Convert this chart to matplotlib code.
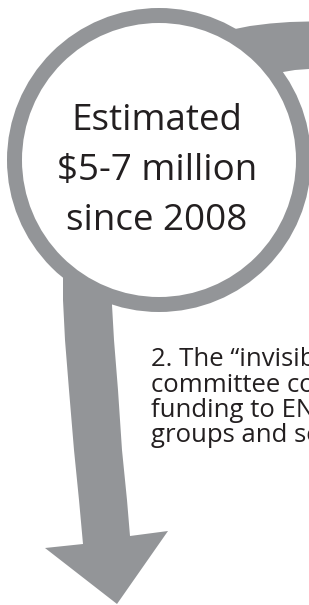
import matplotlib
matplotlib.use("Agg")
import matplotlib.pyplot as plt
import matplotlib.patches as patches

plt.rcParams['font.family'] = ['Open Sans', 'DejaVu Sans']

GRAY = '#939598'
INK = '#231f20'

# texts
circle_lines = ["Estimated", "$5-7 million", "since 2008"]
side_lines = ["2. The \u201cinvisib", "committee co", "funding to EN", "groups and se"]

# geometry in pixel units (y grows downward)
W, H = 309, 605
center = (159, 160)
r_outer, r_inner = 152, 137

tail_pts = [(222, 45), (235, 29), (250, 26), (270, 23.5), (290, 22), (309, 21.5),
            (309, 69), (295, 70), (283, 72), (255, 75)]

shaft_left = [(63, 262), (63, 300), (65, 340), (69, 390), (74, 450), (79, 500), (83, 544)]
head_pts = [(45, 548), (117, 604), (168, 531)]
shaft_right = [(130, 536), (127, 500), (122, 450), (118, 390), (114, 340), (112, 305), (112, 262)]

fig = plt.figure(figsize=(W / 100, H / 100), dpi=100)
ax = fig.add_axes([0, 0, 1, 1])
ax.set_xlim(0, W)
ax.set_ylim(H, 0)
ax.axis('off')

ax.add_patch(patches.Polygon(tail_pts, closed=True, fc=GRAY, ec='none'))
ax.add_patch(patches.Polygon(shaft_left + head_pts + shaft_right, closed=True, fc=GRAY, ec='none'))
ax.add_patch(patches.Circle(center, r_outer, fc=GRAY, ec='none'))
ax.add_patch(patches.Circle(center, r_inner, fc='white', ec='none'))

for i, line in enumerate(circle_lines):
    ax.text(157, 130 + i * 50, line, ha='center', va='baseline',
            fontsize=26.5, color=INK)

for i, line in enumerate(side_lines):
    ax.text(151, 366 + i * 25.5, line, ha='left', va='baseline',
            fontsize=18.5, color=INK)

fig.savefig('out.png', dpi=100)
plt.close(fig)
